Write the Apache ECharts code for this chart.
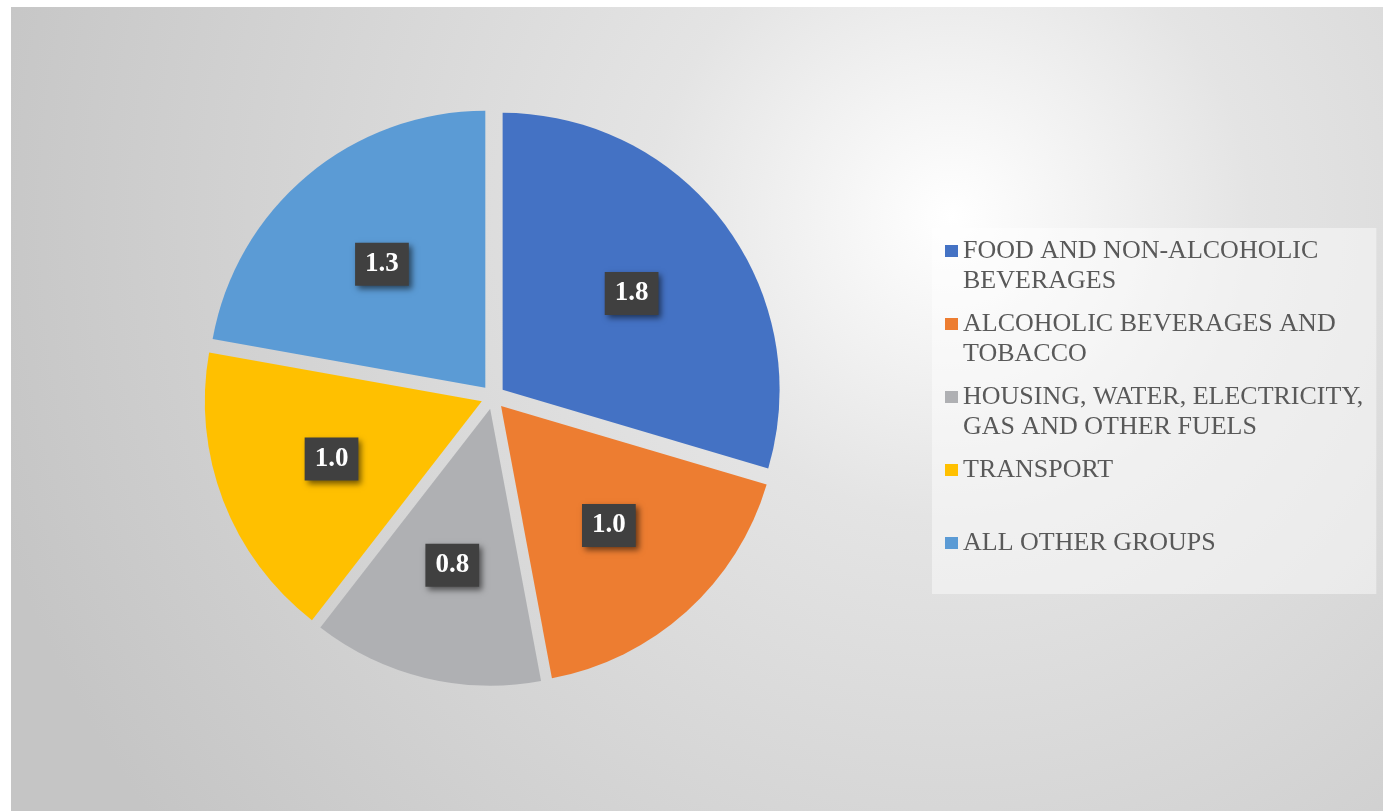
<!DOCTYPE html>
<html><head><meta charset="utf-8">
<script src="https://cdn.jsdelivr.net/npm/echarts@6/dist/echarts.min.js"></script>
<style>
html,body{margin:0;padding:0;background:#fff;overflow:hidden;}
#wrap{position:absolute;left:11px;top:7px;width:1372px;height:804px;
background: radial-gradient(circle at 940px 210px, #ffffff 0px, #e4e4e4 300px, #d3d3d3 680px, #c5c5c5 1000px);}
#chart{width:100%;height:100%;}
</style></head><body><div id="wrap"><div id="chart"></div></div>
<script>
const categories = ['FOOD AND NON-ALCOHOLIC BEVERAGES', 'ALCOHOLIC BEVERAGES AND TOBACCO', 'HOUSING, WATER, ELECTRICITY, GAS AND OTHER FUELS', 'TRANSPORT', 'ALL OTHER GROUPS'];
const values = [1.76, 1.04, 0.80, 1.03, 1.32];
const legendLabels = ['FOOD AND NON-ALCOHOLIC\nBEVERAGES', 'ALCOHOLIC BEVERAGES AND\nTOBACCO', 'HOUSING, WATER, ELECTRICITY,\nGAS AND OTHER FUELS', 'TRANSPORT', 'ALL OTHER GROUPS'];
const colors = ['#4472C4', '#ED7D31', '#AFB0B3', '#FFC000', '#5B9BD5'];

const iconPath = 'path://M0,9H13V21H0Z M0,0H0.01V0.01H0Z M0,59.99H0.01V60H0Z';
const pieData = categories.map((n, i) => ({ name: n, value: values[i], selected: true }));
const center = [482, 390];

const chart = echarts.init(document.getElementById('chart'), null, { renderer: 'canvas' });
chart.setOption({
  animation: false,
  backgroundColor: 'transparent',
  color: colors,
  legend: {
    orient: 'vertical',
    left: 921,
    top: 221,
    padding: [8, 13, 6, 13],
    backgroundColor: 'rgba(255,255,255,0.45)',
    itemWidth: 13,
    itemHeight: 60,
    itemGap: 13,
    selectedMode: false,
    itemStyle: { borderWidth: 0 },
    textStyle: { fontFamily: 'Liberation Serif', fontSize: 26, lineHeight: 30, color: '#595959' },
    formatter: (name) => {
      const s = legendLabels[categories.indexOf(name)];
      return s.indexOf('\n') >= 0 ? s : s + '\n ';
    },
    data: categories.map((n) => ({ name: n, icon: iconPath }))
  },
  series: [
    {
      type: 'pie',
      center: center,
      radius: [0, 277],
      startAngle: 90,
      clockwise: true,
      selectedMode: 'multiple',
      selectedOffset: 12,
      itemStyle: { borderWidth: 0 },
      label: { show: false },
      labelLine: { show: false },
      emphasis: { disabled: true },
      data: pieData
    },
    {
      type: 'pie',
      center: center,
      radius: [0, 316],
      startAngle: 90,
      clockwise: true,
      selectedMode: 'multiple',
      selectedOffset: 12,
      silent: true,
      legendHoverLink: false,
      itemStyle: { color: 'rgba(0,0,0,0)', borderWidth: 0 },
      labelLine: { show: false },
      emphasis: { disabled: true },
      label: {
        show: true,
        position: 'inside',
        formatter: (p) => p.value.toFixed(1),
        fontFamily: 'Liberation Serif',
        fontWeight: 'bold',
        fontSize: 27,
        lineHeight: 27,
        color: '#ffffff',
        backgroundColor: '#404040',
        padding: [8, 10],
        shadowColor: 'rgba(0,0,0,0.55)',
        shadowBlur: 6,
        shadowOffsetX: 3,
        shadowOffsetY: 3
      },
      data: pieData
    }
  ]
});
</script>
</body></html>
